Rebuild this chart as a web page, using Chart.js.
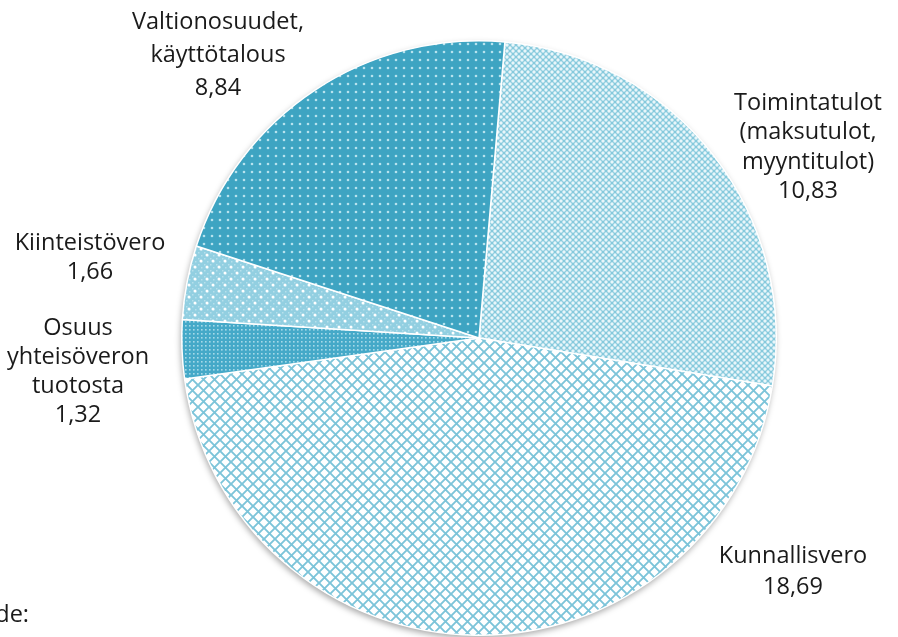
<!DOCTYPE html>
<html>
<head>
<meta charset="utf-8">
<script src="https://cdn.jsdelivr.net/npm/chart.js@4.4.1/dist/chart.umd.min.js"></script>
<style>
  html, body { margin: 0; padding: 0; background: #fff; }
  #wrap { width: 898px; height: 637px; position: relative; }
</style>
</head>
<body>
<div id="wrap"><canvas id="tuloChart" width="898" height="637"></canvas></div>
<script>
// Data
const categories = [
    "Toimintatulot (maksutulot, myyntitulot)",
    "Kunnallisvero",
    "Osuus yhteisöveron tuotosta",
    "Kiinteistövero",
    "Valtionosuudet, käyttötalous"
];
const labelLines = [
    ["Toimintatulot", "(maksutulot,", "myyntitulot)"],
    ["Kunnallisvero"],
    ["Osuus", "yhteisöveron", "tuotosta"],
    ["Kiinteistövero"],
    ["Valtionosuudet,", "käyttötalous"]
];
const values = [10.83, 18.69, 1.32, 1.66, 8.84];

// Label placement (center x, first line y, line step)
const labelPos = [
    [808, 103, 29.6],
    [793, 556, 31],
    [78, 328, 29],
    [90, 243, 29],
    [218, 22, 33]
];

// Pattern fills
function makePattern(size, draw) {
    const c = document.createElement("canvas");
    c.width = size; c.height = size;
    const g = c.getContext("2d");
    draw(g, size);
    return g.createPattern(c, "repeat");
}
const ctx = document.getElementById("tuloChart").getContext("2d");

const patToiminta = makePattern(6, (g, s) => {
    g.fillStyle = "#86c9dc"; g.fillRect(0, 0, s, s);
    g.fillStyle = "#e9f6fa";
    [[3, 3], [0, 0], [6, 0], [0, 6], [6, 6]].forEach(p => {
        g.beginPath(); g.arc(p[0], p[1], 1.7, 0, Math.PI * 2); g.fill();
    });
});
const patKunnallis = makePattern(11, (g, s) => {
    g.fillStyle = "#ffffff"; g.fillRect(0, 0, s, s);
    g.strokeStyle = "#7cc4d9"; g.lineWidth = 1.9;
    g.beginPath();
    g.moveTo(-1, -1); g.lineTo(s + 1, s + 1);
    g.moveTo(s + 1, -1); g.lineTo(-1, s + 1);
    g.stroke();
});
const patOsuus = makePattern(4, (g, s) => {
    g.fillStyle = "#45a9c8"; g.fillRect(0, 0, s, s);
    g.fillStyle = "#a6d9e8";
    g.fillRect(1, 1, 1.6, 1.6);
});
const patKiinteisto = makePattern(12, (g, s) => {
    g.fillStyle = "#92cfe1"; g.fillRect(0, 0, s, s);
    g.fillStyle = "#b6e0ec";
    for (let x = 0; x < s; x += 3) {
        for (let y = 0; y < s; y += 3) {
            if (((x + y) / 3) % 2 === 0) g.fillRect(x, y, 1.5, 1.5);
        }
    }
    g.fillStyle = "#ffffff";
    [[3, 3], [9, 9]].forEach(p => {
        g.beginPath(); g.arc(p[0], p[1], 1.5, 0, Math.PI * 2); g.fill();
    });
});
const patValtio = makePattern(8, (g, s) => {
    g.fillStyle = "#3ea4c2"; g.fillRect(0, 0, s, s);
    g.fillStyle = "#b7e2ee";
    g.beginPath(); g.arc(4, 4, 1.3, 0, Math.PI * 2); g.fill();
});

// Pie shadow drawn behind the slices
const shadowPlugin = {
    id: "pieShadow",
    beforeDatasetsDraw(chart) {
        const arc = chart.getDatasetMeta(0).data[0];
        if (!arc) return;
        const c = chart.ctx;
        c.save();
        c.shadowColor = "rgba(0,0,0,0.35)";
        c.shadowBlur = 6;
        c.shadowOffsetX = -1;
        c.shadowOffsetY = 3;
        c.fillStyle = "#ffffff";
        c.beginPath();
        c.arc(arc.x, arc.y, arc.outerRadius, 0, Math.PI * 2);
        c.fill();
        c.restore();
    }
};

// Slice labels
const labelPlugin = {
    id: "sliceLabels",
    afterDraw(chart) {
        const c = chart.ctx;
        c.save();
        c.font = "23.5px 'Open Sans', 'Noto Sans', sans-serif";
        c.fillStyle = "#1a1a1a";
        c.textAlign = "center";
        c.textBaseline = "middle";
        labelLines.forEach((lines, i) => {
            const [x, y, step] = labelPos[i];
            const all = lines.concat([values[i].toFixed(2).replace(".", ",")]);
            all.forEach((t, k) => c.fillText(t, x, y + k * step));
        });
        c.textAlign = "right";
        c.fillText("Lähde:", 29, 615);
        c.restore();
    }
};

const tuloChart = new Chart(ctx, {
    type: "pie",
    data: {
        labels: categories,
        datasets: [{
            data: values,
            backgroundColor: [patToiminta, patKunnallis, patOsuus, patKiinteisto, patValtio],
            borderColor: "#ffffff",
            borderWidth: 1.5
        }]
    },
    options: {
        responsive: false,
        animation: false,
        rotation: 5,
        layout: { padding: { left: 181, right: 121, top: 40, bottom: 1 } },
        plugins: {
            legend: { display: false },
            tooltip: { enabled: false }
        }
    },
    plugins: [shadowPlugin, labelPlugin]
});
</script>
</body>
</html>
